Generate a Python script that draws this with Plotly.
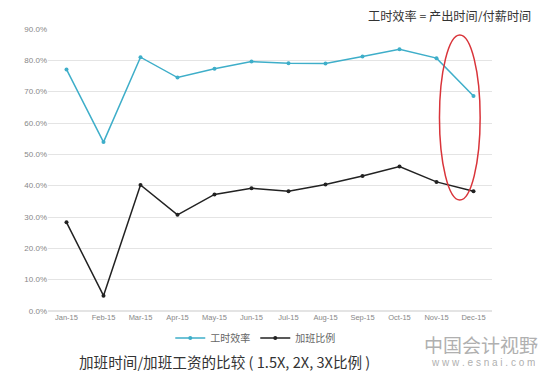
import plotly.graph_objects as go

months = ["Jan-15", "Feb-15", "Mar-15", "Apr-15", "May-15", "Jun-15",
          "Jul-15", "Aug-15", "Sep-15", "Oct-15", "Nov-15", "Dec-15"]
efficiency = [0.771, 0.539, 0.810, 0.745, 0.773, 0.796, 0.791, 0.790, 0.812, 0.835, 0.807, 0.686]
overtime = [0.283, 0.049, 0.402, 0.307, 0.372, 0.392, 0.382, 0.404, 0.431, 0.461, 0.412, 0.382]
y_ticks = [0, 0.1, 0.2, 0.3, 0.4, 0.5, 0.6, 0.7, 0.8, 0.9]

BLUE = "#3eaec9"
BLACK = "#222222"
CJK = "Noto Sans CJK SC"
LAT = "Liberation Sans, Arial, sans-serif"

# the page body has an 8px margin, so the figure is laid out 8px smaller
PW, PH = 444.5, 282.0


def px(xr):
    return (xr - 47.5) / PW


def py(yr):
    return (311 - yr) / PH


fig = go.Figure()
fig.add_trace(go.Scatter(x=months, y=efficiency, name="工时效率", mode="lines+markers",
                         line=dict(color=BLUE, width=1.5), marker=dict(size=4, color=BLUE)))
fig.add_trace(go.Scatter(x=months, y=overtime, name="加班比例", mode="lines+markers",
                         line=dict(color=BLACK, width=1.5), marker=dict(size=4, color=BLACK)))

fig.update_layout(
    width=538, height=363, autosize=False,
    margin=dict(l=39.5, r=54, t=21, b=60, pad=0),
    paper_bgcolor="white", plot_bgcolor="white",
    showlegend=True,
    legend=dict(orientation="h", x=px(255), xanchor="center", y=py(338), yanchor="middle",
                font=dict(family=CJK, size=10, color="#666"),
                itemwidth=30, tracegroupgap=0, bgcolor="rgba(0,0,0,0)"),
    xaxis=dict(type="category", range=[-0.5, 11.5], showgrid=False, zeroline=False,
               showline=False, ticks="", ticklen=2, tickfont=dict(family=LAT, size=7.5, color="#888"),
               fixedrange=True),
    yaxis=dict(range=[0, 0.9], tickvals=y_ticks, tickformat=".1%", showgrid=True,
               gridcolor="#e4e4e4", gridwidth=1, zeroline=True, zerolinecolor="#e4e4e4",
               showline=False, ticks="", tickfont=dict(family=LAT, size=8, color="#888"),
               fixedrange=True),
    font=dict(family=CJK),
)

# red ellipse highlighting December
fig.add_shape(type="circle", xref="x", yref="y", x0=10.08, x1=11.18, y0=0.354, y1=0.881,
              line=dict(color="#d9343a", width=1.5), fillcolor="rgba(0,0,0,0)")

fig.add_annotation(text="工时效率 = 产出时间/付薪时间", xref="paper", yref="paper",
                   x=px(532), y=py(15), xanchor="right", yanchor="middle", borderpad=0,
                   height=13, showarrow=False, font=dict(family=CJK, size=12.2, color="#333"))
fig.add_annotation(text="加班时间/加班工资的比较 ( 1.5X, 2X, 3X比例 )", xref="paper", yref="paper",
                   x=px(224.5), y=py(361), xanchor="center", yanchor="middle", borderpad=0,
                   showarrow=False, font=dict(family=CJK, size=14.6, color="#333"))
# watermark
fig.add_annotation(text="中国会计视野", xref="paper", yref="paper",
                   x=px(481), y=py(344), xanchor="center", yanchor="middle", borderpad=0,
                   height=20, showarrow=False, font=dict(family=CJK, size=19, color="#b0b0b0"))
fig.add_annotation(text="w w w . e s n a i . c o m", xref="paper", yref="paper",
                   x=px(483), y=py(362.5), xanchor="center", yanchor="middle", borderpad=0,
                   height=11, showarrow=False, font=dict(family=LAT, size=10, color="#b0b0b0"))

fig.write_html("out.html")
